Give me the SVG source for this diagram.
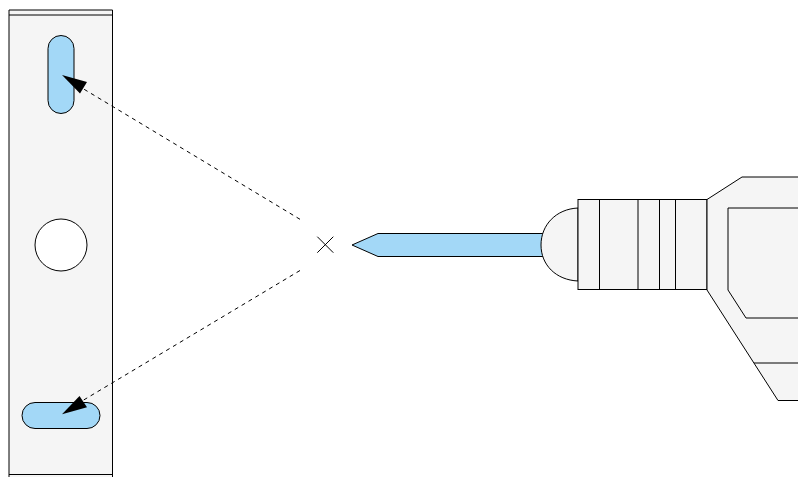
<svg xmlns="http://www.w3.org/2000/svg" width="798" height="477" viewBox="0 0 798 477">
<style>
.s{fill:#f5f5f5;stroke:#000;stroke-width:1}
.b{fill:#a3d8f7;stroke:#000;stroke-width:1}
.l{fill:none;stroke:#000;stroke-width:1}
.d{fill:none;stroke:#000;stroke-width:1;stroke-dasharray:4 4}
</style>
<rect width="798" height="477" fill="#fff"/>
<g id="plate">
<path class="s" d="M9 477V10H112.500V477"/>
<path class="l" d="M9 15H112.500M9 474.500H112.500"/>
<rect class="b" x="48" y="35.500" width="26" height="78" rx="13"/>
<rect class="b" x="22" y="402.500" width="78" height="26" rx="13"/>
<circle cx="61" cy="245" r="26" fill="#fff" stroke="#000"/>
</g>
<g id="target"><path class="l" d="M317.300 236.700L333.300 252.700M333.300 236.700L317.300 252.700"/></g>
<g id="bit"><path class="b" d="M352 245L378 233.500H545V256.500H378Z"/></g>
<g id="drill">
<path class="s" d="M578 208C556 209 541 225 541 245C541 265 556 280 578 281Z"/>
<rect class="s" x="578" y="199.500" width="129" height="90"/>
<path class="l" d="M599.500 199.500V289.500M638 199.500V289.500M659.500 199.500V289.500M675.500 199.500V289.500"/>
<path class="s" d="M798 177H742L707 199.500V290L778 400.500H798"/>
<path class="l" d="M798 208H728V290L746 318H798M754 363H798"/>
</g>
<g id="connectors">
<path class="d" d="M300 219.300L82 88"/>
<path class="d" d="M300 270.500L82 401"/>
<path d="M62 75L87 82L80 93.500Z"/>
<path d="M62 414.300L87 407.300L79.500 396Z"/>
</g>
</svg>
